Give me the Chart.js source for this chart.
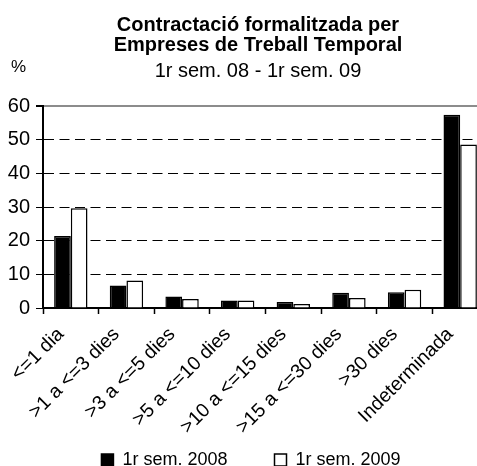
<!DOCTYPE html>
<html>
<head>
<meta charset="utf-8">
<script src="https://cdn.jsdelivr.net/npm/chart.js@4/dist/chart.umd.min.js"></script>
<style>
  html, body { margin: 0; padding: 0; background: #fff; overflow: hidden; }
  #wrap { width: 500px; height: 466px; }
</style>
</head>
<body>
<div id="wrap"><canvas id="myChart" width="500" height="466"></canvas></div>
<script>
// dades llegides del gràfic
let categories = ['<=1 dia', '>1 a <=3 dies', '>3 a <=5 dies', '>5 a <=10 dies',
                  '>10 a <=15 dies', '>15 a <=30 dies', '>30 dies', 'Indeterminada'];
let sem2008 = [21.4, 6.7, 3.4, 2.2, 1.8, 4.5, 4.7, 57.4];
let sem2009 = [29.6, 8.2, 2.7, 2.2, 1.2, 3.0, 5.4, 48.6];
let yTicks = [0, 10, 20, 30, 40, 50, 60];
let titleLines = ['Contractació formalitzada per', 'Empreses de Treball Temporal'];
let subtitle = '1r sem. 08 - 1r sem. 09';
let yUnit = '%';

let font = "'Liberation Sans', Arial, sans-serif";

// títol, subtítol i "%" (centrats sobre l'àrea del gràfic, com l'original)
const titles = {
    id: 'titles',
    afterDraw(chart) {
        const c = chart.ctx;
        c.save();
        c.fillStyle = '#000';
        c.textBaseline = 'alphabetic';
        c.textAlign = 'center';
        c.font = 'bold 20px ' + font;
        c.fillText(titleLines[0], 258, 31);
        c.fillText(titleLines[1], 258, 51);
        c.font = '20px ' + font;
        c.fillText(subtitle, 258, 77);
        c.textAlign = 'left';
        c.font = '17px ' + font;
        c.fillText(yUnit, 11, 72);
        c.restore();
    },
    // la llegenda va més avall que la seva caixa
    afterLayout(chart) {
        if (chart.legend) {
            chart.legend.top = 404;
            chart.legend.left = 14;
        }
    }
};

var ctx = document.getElementById('myChart').getContext('2d');

new Chart(ctx, {
    type: 'bar',
    data: {
        labels: categories,
        datasets: [{
            label: '1r sem. 2008',
            data: sem2008,
            backgroundColor: '#000',
            borderColor: '#000',
            borderWidth: 1.5,
            categoryPercentage: 0.6,
            barPercentage: 1.0
        }, {
            label: '1r sem. 2009',
            data: sem2009,
            backgroundColor: '#fff',
            borderColor: '#000',
            borderWidth: 1.5,
            categoryPercentage: 0.6,
            barPercentage: 1.0
        }]
    },
    plugins: [titles],
    options: {
        responsive: false,
        animation: false,
        layout: { padding: { left: 0, right: 12, top: 106, bottom: 0 } },
        plugins: {
            title: { display: false },
            legend: {
                position: 'bottom',
                maxHeight: 10,
                labels: {
                    color: '#000',
                    font: { family: font, size: 18 },
                    boxWidth: 12,
                    boxHeight: 12,
                    padding: 47
                }
            },
            tooltip: { enabled: false }
        },
        scales: {
            x: {
                grid: {
                    drawOnChartArea: false,
                    offset: true,
                    tickLength: 6,
                    tickColor: '#000',
                    tickWidth: 1.5
                },
                border: { color: '#000', width: 2 },
                ticks: {
                    color: '#000',
                    font: { family: font, size: 19.5 },
                    minRotation: 45,
                    maxRotation: 45,
                    autoSkip: false,
                    labelOffset: -10,
                    padding: 9
                },
                afterFit(scale) { scale.height = 148; }
            },
            y: {
                min: 0,
                max: 60,
                afterBuildTicks(scale) {
                    scale.ticks = yTicks.map(v => ({ value: v }));
                },
                grid: {
                    color: (c) => c.tick && c.tick.value === 60 ? '#8c8c8c' : '#000',
                    lineWidth: (c) => c.tick && c.tick.value === 60 ? 2 : 1,
                    tickLength: 7,
                    tickColor: '#000'
                },
                border: {
                    color: '#000',
                    width: 2,
                    dash: (c) => c.tick && c.tick.value === 60 ? [] : [10, 5.5]
                },
                ticks: {
                    color: '#000',
                    font: { family: font, size: 20 },
                    padding: 6
                },
                afterFit(scale) { scale.width = 43; }
            }
        }
    }
});
</script>
</body>
</html>
